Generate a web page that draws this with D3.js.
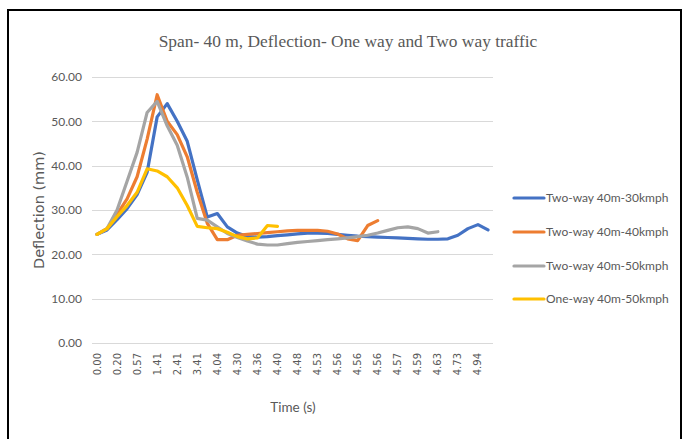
<!DOCTYPE html>
<html>
<head>
<meta charset="utf-8">
<script src="https://cdn.jsdelivr.net/npm/d3@7/dist/d3.min.js"></script>
<style>
  html, body { margin: 0; padding: 0; background: #fff; }
  svg { display: block; }
</style>
</head>
<body>
<svg id="chart" width="684" height="439"></svg>
<script>
// ---- data ----
const categories = ["0.00","0.10","0.20","0.38","0.57","0.99","1.41","1.91","2.41","2.91",
  "3.41","3.72","4.04","4.17","4.30","4.33","4.36","4.38","4.40","4.44",
  "4.48","4.50","4.53","4.54","4.56","4.56","4.56","4.56","4.56","4.56",
  "4.57","4.58","4.59","4.61","4.63","4.68","4.73","4.83","4.94","5.00"];
const yTicks = [0, 10, 20, 30, 40, 50, 60];

const twoWay30 = [24.5, 25.5, 27.8, 30.3, 33.5, 38.5, 51.0, 54.0, 50.0, 45.5,
  36.8, 28.4, 29.2, 26.2, 24.8, 24.0, 23.9, 24.0, 24.2, 24.4,
  24.6, 24.8, 24.8, 24.7, 24.5, 24.3, 24.1, 24.0, 23.9, 23.8,
  23.7, 23.6, 23.5, 23.4, 23.4, 23.5, 24.3, 25.8, 26.7, 25.5];
const twoWay40 = [24.5, 25.8, 29.0, 32.5, 37.5, 46.0, 56.0, 50.0, 47.0, 42.0,
  34.0, 27.0, 23.3, 23.3, 24.3, 24.5, 24.7, 24.9, 25.1, 25.3,
  25.4, 25.4, 25.4, 25.2, 24.6, 23.5, 23.1, 26.5, 27.6];
const twoWay50 = [24.5, 25.8, 30.0, 36.5, 43.0, 52.0, 54.5, 49.0, 44.6, 37.4,
  28.1, 27.7, 26.2, 24.7, 23.8, 23.0, 22.3, 22.1, 22.1, 22.4,
  22.7, 22.9, 23.1, 23.3, 23.5, 23.7, 24.0, 24.3, 24.8, 25.4,
  26.0, 26.2, 25.8, 24.8, 25.1];
const oneWay50 = [24.5, 25.8, 28.5, 31.0, 34.0, 39.3, 38.8, 37.5, 35.0, 31.0,
  26.3, 26.0, 25.8, 25.0, 24.0, 23.5, 23.7, 26.5, 26.3];

const seriesNames = ["Two-way 40m-30kmph", "Two-way 40m-40kmph", "Two-way 40m-50kmph", "One-way 40m-50kmph"];
const seriesColors = ["#4472C4", "#ED7D31", "#A5A5A5", "#FFC000"];
const seriesValues = [twoWay30, twoWay40, twoWay50, oneWay50];

// ---- layout ----
const svg = d3.select("#chart");
const W = 684, H = 439;
const plot = {left: 92, right: 493, top: 77, bottom: 343};
const textColor = "#595959";

svg.append("rect").attr("x", 0).attr("y", 0).attr("width", W).attr("height", H).attr("fill", "#fff");
svg.append("rect").attr("x", 8).attr("y", 10).attr("width", 673).attr("height", 440)
  .attr("fill", "none").attr("stroke", "#000").attr("stroke-width", 2);

const x = d3.scaleBand().domain(d3.range(categories.length)).range([plot.left, plot.right]);
const y = d3.scaleLinear().domain([0, 60]).range([plot.bottom, plot.top]);
const cx = i => x(i) + x.bandwidth() / 2;

// title
svg.append("text").attr("x", 348).attr("y", 47).attr("text-anchor", "middle")
  .attr("font-family", "'Liberation Serif', 'Times New Roman', serif").attr("font-size", 17.4)
  .attr("fill", textColor).text("Span- 40 m, Deflection- One way and Two way traffic");

// gridlines
svg.append("g").selectAll("line").data(yTicks).join("line")
  .attr("x1", plot.left).attr("x2", plot.right)
  .attr("y1", d => Math.round(y(d)) + 0.5).attr("y2", d => Math.round(y(d)) + 0.5)
  .attr("stroke", "#d9d9d9").attr("stroke-width", 1.2);

// y axis labels
const yAxis = d3.axisLeft(y).tickValues(yTicks).tickFormat(d3.format(".2f")).tickSize(0).tickPadding(0);
const gy = svg.append("g").attr("transform", `translate(${plot.left - 10},0)`).call(yAxis);
gy.select(".domain").remove();
gy.selectAll("text").attr("font-family", "Lato, 'Open Sans', sans-serif").attr("font-size", 12)
  .attr("fill", textColor);

// x axis labels (every other category)
const xAxis = d3.axisBottom(x).tickValues(d3.range(0, categories.length, 2))
  .tickFormat(i => categories[i]).tickSize(0).tickPadding(0);
const gx = svg.append("g").attr("transform", `translate(0,${plot.bottom})`).call(xAxis);
gx.select(".domain").remove();
gx.selectAll("text")
  .attr("font-family", "'DejaVu Sans', Verdana, sans-serif").attr("font-size", 10)
  .attr("fill", textColor)
  .attr("transform", "rotate(-90)")
  .attr("text-anchor", "end")
  .attr("x", -10).attr("y", 0).attr("dy", "0.35em");

// axis titles
svg.append("text").attr("transform", "translate(44,210) rotate(-90)").attr("text-anchor", "middle")
  .attr("font-family", "'DejaVu Sans', Verdana, sans-serif").attr("font-size", 14.5)
  .attr("fill", textColor).text("Deflection (mm)");
svg.append("text").attr("x", 293).attr("y", 412).attr("text-anchor", "middle")
  .attr("font-family", "Lato, 'Open Sans', sans-serif").attr("font-size", 13.5)
  .attr("fill", textColor).text("Time (s)");

// lines
const line = d3.line().x((d, i) => cx(i)).y(d => y(d)).curve(d3.curveLinear);
svg.append("g").selectAll("path").data(seriesValues).join("path")
  .attr("d", d => line(d))
  .attr("fill", "none")
  .attr("stroke", (d, i) => seriesColors[i])
  .attr("stroke-width", 3.2)
  .attr("stroke-linejoin", "round")
  .attr("stroke-linecap", "round");

// legend
const legendY = [198, 232, 266, 299];
const lg = svg.append("g").selectAll("g").data(seriesNames).join("g")
  .attr("transform", (d, i) => `translate(514,${legendY[i]})`);
lg.append("line").attr("x1", 0).attr("x2", 30).attr("y1", 0).attr("y2", 0)
  .attr("stroke", (d, i) => seriesColors[i]).attr("stroke-width", 3.2).attr("stroke-linecap", "round");
lg.append("text").attr("x", 32).attr("y", 0).attr("dy", "0.35em")
  .attr("font-family", "Lato, 'Open Sans', sans-serif").attr("font-size", 12)
  .attr("fill", textColor).text(d => d);
</script>
</body>
</html>
